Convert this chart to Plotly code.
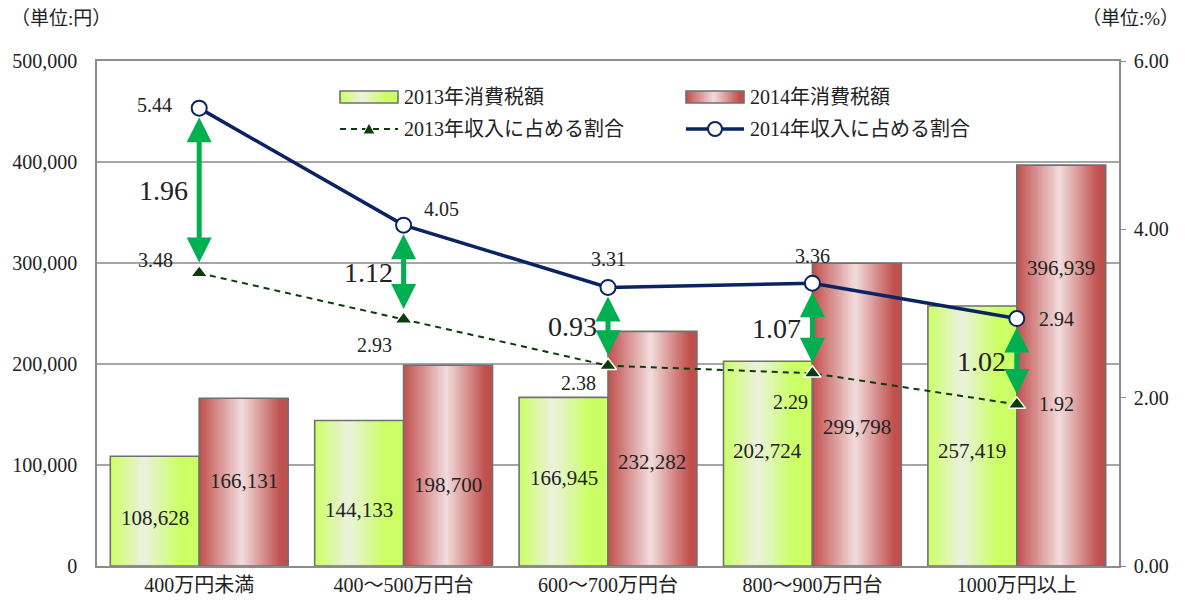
import plotly.graph_objects as go

# ---------------- data ----------------
categories = ["400万円未満", "400～500万円台", "600～700万円台", "800～900万円台", "1000万円以上"]
tax_2013 = [108628, 144133, 166945, 202724, 257419]
tax_2014 = [166131, 198700, 232282, 299798, 396939]
ratio_2013 = [3.48, 2.93, 2.38, 2.29, 1.92]
ratio_2014 = [5.44, 4.05, 3.31, 3.36, 2.94]

series_names = ["2013年消費税額", "2014年消費税額", "2013年収入に占める割合", "2014年収入に占める割合"]

# ---------------- style / label placement ----------------
label_y_2013 = [47500, 55400, 87000, 114000, 114000]     # label anchor heights inside bars
label_y_2014 = [84000, 80000, 103000, 138000, 295000]
shift_2014 = [(-45, 3), (38, 16), (0, 28), (0, 27), (40, 0)]   # pixel shifts for ratio labels
shift_2013 = [(-44, 13), (-29, -26), (-30, -17), (-22, -29), (40, 0)]

SERIF = "Liberation Serif, Noto Sans CJK JP"
TXT = "#222222"
GREEN_STOPS = [(0.0, (204, 255, 102)), (0.38, (236, 241, 222)), (0.78, (204, 255, 102)), (1.0, (204, 255, 102))]
RED_STOPS = [(0.0, (192, 80, 77)), (0.48, (242, 220, 221)), (0.92, (192, 80, 77)), (1.0, (192, 80, 77))]
NAVY = "#0A2463"
DKGREEN = "#0B3D0B"
ARROW = "#00B050"
OUTLINE = "#707070"
GRID = "#A6A6A6"

# the page body has an 8px default margin, so the figure is drawn 8px in from the corner
OFF = 8
W, H = 1185 - OFF, 601 - OFF
ML, MT = 97 - OFF, 61 - OFF
MR, MB = 66, 35
PW, PH = W - ML - MR, H - MT - MB

BW = 0.435  # bar width in category units
NSTRIP = 40


def grad(stops, t):
    for (t0, c0), (t1, c1) in zip(stops[:-1], stops[1:]):
        if t0 <= t <= t1:
            f = 0 if t1 == t0 else (t - t0) / (t1 - t0)
            c = [round(a + (b - a) * f) for a, b in zip(c0, c1)]
            return "rgb(%d,%d,%d)" % tuple(c)
    c = stops[-1][1]
    return "rgb(%d,%d,%d)" % tuple(c)


fig = go.Figure()

# gradient bars made of strips; each strip runs to the bar's right edge so no seams appear
for values, stops, base in [(tax_2013, GREEN_STOPS, -BW), (tax_2014, RED_STOPS, 0.0)]:
    sw = BW / NSTRIP
    for k in range(NSTRIP):
        t = (k + 0.5) / NSTRIP
        fig.add_trace(go.Bar(
            x=categories, y=values, width=BW - k * sw, offset=base + k * sw,
            marker=dict(color=grad(stops, t), line=dict(width=0)),
            showlegend=False, hoverinfo="skip"))
    fig.add_trace(go.Bar(
        x=categories, y=values, width=BW, offset=base,
        marker=dict(color="rgba(0,0,0,0)", line=dict(color=OUTLINE, width=1.6)),
        showlegend=False, hoverinfo="skip"))

# ratio lines
fig.add_trace(go.Scatter(
    x=categories, y=ratio_2013, yaxis="y2", mode="lines+markers", name=series_names[2],
    line=dict(color=DKGREEN, width=2, dash="6px,5px"),
    marker=dict(symbol="triangle-up", size=15, color=DKGREEN, line=dict(color="white", width=1.5)),
    showlegend=False))
fig.add_trace(go.Scatter(
    x=categories, y=ratio_2014, yaxis="y2", mode="lines+markers", name=series_names[3],
    line=dict(color=NAVY, width=3.5),
    marker=dict(symbol="circle", size=15, color="white", line=dict(color=NAVY, width=2)),
    showlegend=False))

ann = []
# bar value labels
for i in range(len(categories)):
    ann.append(dict(x=i - BW / 2, y=label_y_2013[i], xref="x", yref="y", text=f"{tax_2013[i]:,}",
                    showarrow=False, font=dict(family=SERIF, size=21, color=TXT)))
    ann.append(dict(x=i + BW / 2, y=label_y_2014[i], xref="x", yref="y", text=f"{tax_2014[i]:,}",
                    showarrow=False, font=dict(family=SERIF, size=21, color=TXT)))
# ratio labels
for i in range(len(categories)):
    ann.append(dict(x=i, y=ratio_2014[i], xref="x", yref="y2", text=f"{ratio_2014[i]:.2f}",
                    xshift=shift_2014[i][0], yshift=shift_2014[i][1],
                    showarrow=False, font=dict(family=SERIF, size=20, color=TXT)))
    ann.append(dict(x=i, y=ratio_2013[i], xref="x", yref="y2", text=f"{ratio_2013[i]:.2f}",
                    xshift=shift_2013[i][0], yshift=shift_2013[i][1],
                    showarrow=False, font=dict(family=SERIF, size=20, color=TXT)))
# difference arrows + labels
for i in range(len(categories)):
    ann.append(dict(x=i, y=ratio_2014[i], ax=i, ay=ratio_2013[i], xref="x", yref="y2",
                    axref="x", ayref="y2", text="", showarrow=True, arrowside="end+start",
                    arrowhead=2, startarrowhead=2, arrowwidth=5, arrowsize=1, startarrowsize=1,
                    arrowcolor=ARROW, standoff=9, startstandoff=9))
    diff = ratio_2014[i] - ratio_2013[i]
    ann.append(dict(x=i, y=(ratio_2014[i] + ratio_2013[i]) / 2, xref="x", yref="y2",
                    text=f"{diff:.2f}", xanchor="right", xshift=-9, showarrow=False,
                    font=dict(family="Liberation Serif", size=28, color=TXT)))
# unit titles
ann.append(dict(x=0, y=1, xref="paper", yref="paper", xanchor="left", yanchor="middle",
                xshift=-88, yshift=43, text="（単位:円）", showarrow=False,
                font=dict(family=SERIF, size=19, color=TXT)))
ann.append(dict(x=1, y=1, xref="paper", yref="paper", xanchor="right", yanchor="middle",
                xshift=62, yshift=43, text="（単位:%）", showarrow=False,
                font=dict(family=SERIF, size=19, color=TXT)))


# ---------------- manual legend (positions given in reference-picture pixels) ----------------
def px(xp):
    return (xp - OFF - ML) / PW


def py(yp):
    return ((MT + PH) - (yp - OFF)) / PH


shapes = []
legend_items = [
    (0, 340, 97, series_names[0]), (1, 686, 97, series_names[1]),
    (2, 340, 129, series_names[2]), (3, 686, 129, series_names[3]),
]
for kind, x0, yc, label in legend_items:
    x1 = x0 + 58
    if kind in (0, 1):
        stops = GREEN_STOPS if kind == 0 else RED_STOPS
        n = 29
        for k in range(n):
            t = (k + 0.5) / n
            shapes.append(dict(type="rect", xref="paper", yref="paper",
                               x0=px(x0 + k * 58 / n), x1=px(x1),
                               y0=py(yc + 6), y1=py(yc - 6), line=dict(width=0), fillcolor=grad(stops, t)))
        shapes.append(dict(type="rect", xref="paper", yref="paper", x0=px(x0), x1=px(x1),
                           y0=py(yc + 6), y1=py(yc - 6), line=dict(color=OUTLINE, width=1.6)))
    elif kind == 2:
        shapes.append(dict(type="line", xref="paper", yref="paper", x0=px(x0), x1=px(x1),
                           y0=py(yc), y1=py(yc), line=dict(color=DKGREEN, width=2, dash="6px,5px")))
        xm = x0 + 29
        shapes.append(dict(type="path", xref="paper", yref="paper",
                           path=f"M{px(xm - 6)},{py(yc + 5)} L{px(xm + 6)},{py(yc + 5)} L{px(xm)},{py(yc - 6)} Z",
                           fillcolor=DKGREEN, line=dict(color="white", width=1)))
    else:
        shapes.append(dict(type="line", xref="paper", yref="paper", x0=px(x0), x1=px(x1),
                           y0=py(yc), y1=py(yc), line=dict(color=NAVY, width=3.5)))
        xm = x0 + 29
        shapes.append(dict(type="circle", xref="paper", yref="paper",
                           x0=px(xm - 7), x1=px(xm + 7), y0=py(yc + 7), y1=py(yc - 7),
                           fillcolor="white", line=dict(color=NAVY, width=2)))
    ann.append(dict(x=px(x1 + 4), y=py(yc), xref="paper", yref="paper", xanchor="left",
                    yanchor="middle", text=label, showarrow=False,
                    font=dict(family=SERIF, size=20, color=TXT)))

fig.update_layout(
    width=W, height=H, margin=dict(l=ML, r=MR, t=MT, b=MB, autoexpand=False),
    paper_bgcolor="white", plot_bgcolor="white",
    barmode="overlay", showlegend=False,
    annotations=ann, shapes=shapes,
    font=dict(family=SERIF),
    xaxis=dict(type="category", showline=True, linecolor="#8C8C8C", linewidth=1.6, mirror=True,
               showgrid=False, ticks="", automargin=False,
               tickfont=dict(family=SERIF, size=20, color=TXT),
               range=[-0.5, len(categories) - 0.5]),
    yaxis=dict(range=[0, 500000], dtick=100000, tickformat=",", showgrid=True, gridcolor=GRID,
               gridwidth=1.5, showline=True, linecolor="#8C8C8C", linewidth=1.6, zeroline=False,
               ticks="", ticklabelstandoff=14, automargin=False,
               tickfont=dict(family=SERIF, size=20, color=TXT)),
    yaxis2=dict(range=[0, 6], tickvals=[0, 2, 4, 6], tickformat=".2f", overlaying="y", side="right",
                showgrid=False, showline=True, linecolor="#8C8C8C", linewidth=1.6, zeroline=False,
                ticks="outside", ticklen=5, tickcolor="#8C8C8C", ticklabelstandoff=4, automargin=False,
                tickfont=dict(family=SERIF, size=20, color=TXT)),
)

fig.write_html("out.html")
